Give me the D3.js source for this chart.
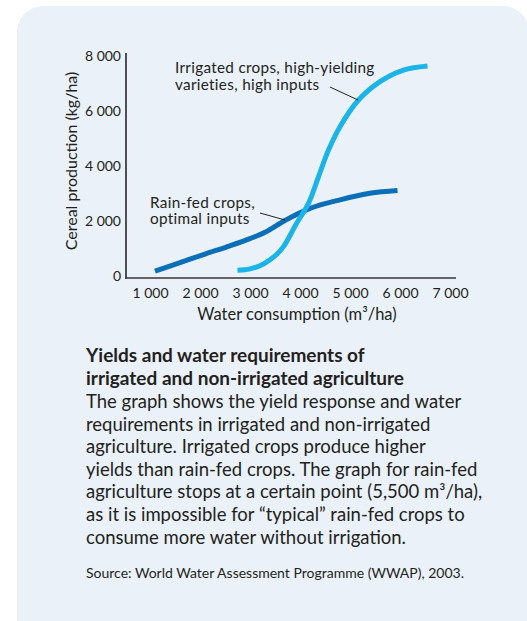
<!DOCTYPE html>
<html><head><meta charset="utf-8">
<script src="https://cdn.jsdelivr.net/npm/d3@7"></script>
<style>
html,body{margin:0;padding:0;background:#fff;}
text{font-family:Lato, "Open Sans", sans-serif;fill:#231f20;}
</style></head>
<body>
<svg id="chart" width="527" height="621"></svg>
<script>
// ---- data ----
const xTicks = [1000, 2000, 3000, 4000, 5000, 6000, 7000];
const yTicks = [0, 2000, 4000, 6000, 8000];
const rainfedX = [1100, 1600, 2100, 2600, 3000, 3300, 3700, 4200, 4800, 5400, 5950];
const rainfedY = [70, 380, 690, 990, 1250, 1480, 1910, 2350, 2660, 2900, 3000];
const irrigatedX = [2750, 3000, 3270, 3500, 3670, 3930, 4170, 4370, 4570, 4800, 5170, 5600, 6070, 6550];
const irrigatedY = [100, 150, 330, 620, 960, 1800, 2530, 3500, 4470, 5320, 6290, 6960, 7380, 7530];
const xTitle = "Water consumption (m³/ha)";
const yTitle = "Cereal production (kg/ha)";
const irrigatedLabel = ["Irrigated crops, high-yielding", "varieties, high inputs"];
const rainfedLabel = ["Rain-fed crops,", "optimal inputs"];
const captionTitle = ["Yields and water requirements of", "irrigated and non-irrigated agriculture"];
const captionBody = [
  "The graph shows the yield response and water",
  "requirements in irrigated and non-irrigated",
  "agriculture. Irrigated crops produce higher",
  "yields than rain-fed crops. The graph for rain-fed",
  "agriculture stops at a certain point (5,500 m³/ha),",
  "as it is impossible for “typical” rain-fed crops to",
  "consume more water without irrigation."
];
const source = "Source:  World Water Assessment Programme (WWAP), 2003.";

const svg = d3.select("#chart");
const fmt = d => d === 0 ? "0" : d3.format(",")(d).replace(",", " ");

// panel
svg.append("rect").attr("x", 17).attr("y", 6).attr("width", 512).attr("height", 640)
  .attr("rx", 26).attr("fill", "#eaf1f8");

const x = d3.scaleLinear().domain([0, 7000]).range([100, 450]);
const y = d3.scaleLinear().domain([0, 8000]).range([273, 53]);

// axes lines
const axisColor = "#333";
svg.append("line").attr("x1", 126).attr("x2", 126).attr("y1", 53).attr("y2", 278.8)
  .attr("stroke", axisColor).attr("stroke-width", 1.7);
svg.append("line").attr("x1", 125.2).attr("x2", 456).attr("y1", 278).attr("y2", 278)
  .attr("stroke", axisColor).attr("stroke-width", 1.7);

// tick labels via d3 axes (no tick lines)
const xAxis = svg.append("g").attr("transform", "translate(0,278)")
  .call(d3.axisBottom(x).tickValues(xTicks).tickFormat(fmt).tickSize(0).tickPadding(10));
xAxis.select(".domain").remove();
xAxis.selectAll("text").attr("font-size", 14).attr("font-family", "Lato").attr("fill", "#231f20");

const yAxis = svg.append("g").attr("transform", "translate(126,0)")
  .call(d3.axisLeft(y).tickValues(yTicks).tickFormat(fmt).tickSize(0).tickPadding(5));
yAxis.select(".domain").remove();
yAxis.selectAll("text").attr("font-size", 14).attr("font-family", "Lato").attr("fill", "#231f20")
  .attr("dy", "0.5em");

// titles
svg.append("text").attr("x", 297).attr("y", 320).attr("text-anchor", "middle")
  .attr("font-size", 16.5).text(xTitle);
svg.append("text").attr("transform", "translate(77,161) rotate(-90)").attr("text-anchor", "middle")
  .attr("font-size", 16).text(yTitle);

// curves
const line = d3.line().x(d => x(d[0])).y(d => y(d[1])).curve(d3.curveCatmullRom.alpha(0.5));
const rainfed = rainfedX.map((v, i) => [v, rainfedY[i]]);
const irrigated = irrigatedX.map((v, i) => [v, irrigatedY[i]]);
svg.append("path").datum(rainfed).attr("d", line).attr("fill", "none")
  .attr("stroke", "#0a6fb8").attr("stroke-width", 5);
svg.append("path").datum(irrigated).attr("d", line).attr("fill", "none")
  .attr("stroke", "#1ab4e9").attr("stroke-width", 5);

// annotations
const ann = (lines, x0, y0) => {
  lines.forEach((l, i) => svg.append("text").attr("font-size", 15.3).attr("letter-spacing", 0.3)
    .attr("x", x0).attr("y", y0 + i * 16.5).text(l));
};
ann(irrigatedLabel, 175, 73);
ann(rainfedLabel, 150, 207.5);
svg.append("line").attr("x1", 330).attr("y1", 87).attr("x2", 358).attr("y2", 100)
  .attr("stroke", "#231f20").attr("stroke-width", 1);
svg.append("line").attr("x1", 260).attr("y1", 213).attr("x2", 285).attr("y2", 220)
  .attr("stroke", "#231f20").attr("stroke-width", 1);

// caption
captionTitle.forEach((l, i) => svg.append("text").attr("x", 86).attr("y", 362 + i * 22.6)
  .attr("font-size", 19).attr("font-weight", "bold").text(l));
captionBody.forEach((l, i) => svg.append("text").attr("x", 86).attr("y", 408 + i * 22.6)
  .attr("font-size", 18.5).text(l));
svg.append("text").attr("x", 86).attr("y", 578).attr("font-size", 14).text(source);
</script>
</body></html>
